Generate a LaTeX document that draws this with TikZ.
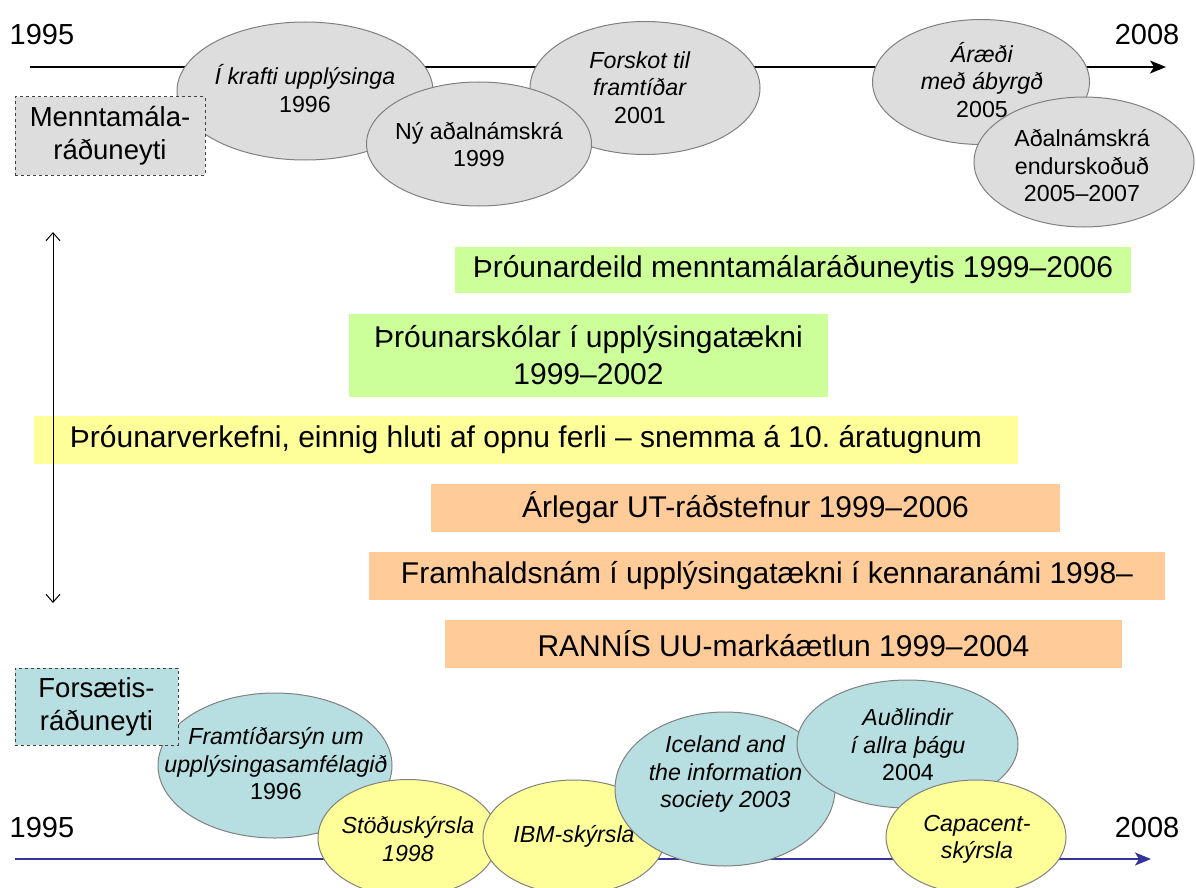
\documentclass[tikz,border=0pt]{standalone}
\usepackage{fontspec}
\setmainfont{Liberation Sans}
\usetikzlibrary{shapes.geometric,arrows.meta}
\frenchspacing
\definecolor{cgray}{RGB}{221,221,221}
\definecolor{cedge}{RGB}{128,128,128}
\definecolor{cteal}{RGB}{183,222,224}
\definecolor{cyel}{RGB}{255,255,153}
\definecolor{cgreen}{RGB}{204,255,153}
\definecolor{corange}{RGB}{255,204,153}
\definecolor{cblue}{RGB}{51,51,153}
\definecolor{cdash}{RGB}{64,64,64}
\newcommand\szBar{\fontsize{30}{37}\selectfont}
\newcommand\szEll{\fontsize{23.2}{27.5}\selectfont}
\newcommand\szBox{\fontsize{27.5}{33}\selectfont}
\newcommand\szYear{\fontsize{29}{34}\selectfont}
\tikzset{
  ell/.style={ellipse, draw=cedge, line width=1pt, inner sep=0pt},
  gell/.style={ell, fill=cgray},
  tell/.style={ell, fill=cteal},
  yell/.style={ell, fill=cyel},
  etext/.style={inner sep=0pt, align=center, font=\szEll},
  bar/.style={rectangle, inner sep=0pt, align=center, font=\szBar},
  minbox/.style={rectangle, draw=cdash, dashed, line width=1pt, inner sep=0pt, align=center, font=\szBox},
  year/.style={inner sep=0pt, font=\szYear},
  topaxis/.style={line width=1.5pt, -{Stealth[length=16pt,width=13pt,inset=4pt]}},
  botaxis/.style={draw=cblue, line width=2pt, -{Stealth[length=16pt,width=13pt,inset=4pt]}},
  span/.style={line width=1pt, {Straight Barb[length=8pt,width=14pt]}-{Straight Barb[length=8pt,width=14pt]}}
}
\begin{document}
\begin{tikzpicture}[x=1pt,y=-1pt]
\useasboundingbox (0,0) rectangle (1196,888);
% top axis
\coordinate (tA) at (30,67);
\coordinate (tB) at (1166,67);
\draw[topaxis] (tA) -- (tB);
\node[year] (t1995) at (42,35) {1995};
\node[year] (t2008) at (1147,35) {2008};
% top ellipses
\node[gell, minimum width=256pt, minimum height=138pt] (e1) at (305,91) {};
\node[etext] (e1t) at (305,88.5) {\textit{Í krafti upplýsinga}\\1996};
\node[gell, minimum width=230pt, minimum height=133pt] (e3) at (645,88) {};
\node[etext] (e3t) at (640,87.5) {\textit{Forskot til}\\\textit{framtíðar}\\2001};
\node[gell, minimum width=225pt, minimum height=124pt] (e2) at (479,144) {};
\node[etext] (e2t) at (479,144.5) {Ný aðalnámskrá\\1999};
\node[gell, minimum width=217pt, minimum height=125pt] (e4) at (981,82) {};
\node[etext] (e4t) at (982,80) {\textit{Áræði}\\\textit{með ábyrgð}\\2005};
\node[gell, minimum width=220pt, minimum height=130pt] (e5) at (1084,162) {};
\node[etext] (e5t) at (1082,166) {Aðalnámskrá\\endurskoðuð\\2005–2007};
% ministry box
\node[minbox, fill=cgray, minimum width=190pt, minimum height=78pt] (mrn) at (110,136) {Menntamála-\\ráðuneyti};
% vertical double arrow
\coordinate (vA) at (53,232);
\coordinate (vB) at (53,603);
% bars
\node[bar, fill=cyel, minimum width=984pt, minimum height=48pt] (b3) at (526,440) {Þróunarverkefni, einnig hluti af opnu ferli – snemma á 10. áratugnum};
\draw[span] (vA) -- (vB);
\node[bar, fill=cgreen, minimum width=676pt, minimum height=46pt] (b1) at (793,270) {Þróunardeild menntamálaráðuneytis 1999–2006};
\node[bar, fill=cgreen, minimum width=479pt, minimum height=83pt] (b2) at (588.5,355) {Þróunarskólar í upplýsingatækni\\1999–2002};
\node[bar, fill=corange, minimum width=629pt, minimum height=48pt] (b4) at (745.5,508) {Árlegar UT-ráðstefnur 1999–2006};
\node[bar, fill=corange, minimum width=796pt, minimum height=48pt] (b5) at (767,576) {Framhaldsnám í upplýsingatækni í kennaranámi 1998–};
\node[bar, fill=corange, minimum width=677pt, minimum height=48pt] (b6) at (783.5,644) {RANNÍS UU-markáætlun 1999–2004};
% bottom axis
\coordinate (bA) at (15,859);
\coordinate (bB) at (1151,859);
\draw[botaxis] (bA) -- (bB);
\node[year] (b1995) at (42,828) {1995};
\node[year] (b2008) at (1147,828) {2008};
% bottom ellipses
\node[tell, minimum width=234pt, minimum height=145pt] (f1) at (275,765.5) {};
\node[etext] (f1t) at (276,764) {\textit{Framtíðarsýn um}\\\textit{upplýsingasamfélagið}\\1996};
\node[minbox, fill=cteal, minimum width=163pt, minimum height=77pt] (frn) at (96.5,706.5) {Forsætis-\\ráðuneyti};
\node[yell, minimum width=180pt, minimum height=117pt] (f2) at (408,838) {};
\node[etext] (f2t) at (408,839) {\textit{Stöðuskýrsla}\\\textit{1998}};
\node[yell, minimum width=182pt, minimum height=114pt] (f3) at (574,837) {};
\node[etext] (f3t) at (574,836) {\textit{IBM-skýrsla}};
\node[tell, minimum width=220pt, minimum height=154pt] (f4) at (725,789) {};
\node[etext] (f4t) at (725.5,774) {\textit{Iceland and}\\\textit{the information}\\\textit{society 2003}};
\node[tell, minimum width=221pt, minimum height=128pt] (f5) at (907.5,744) {};
\node[etext] (f5t) at (908,745) {\textit{Auðlindir}\\\textit{í allra þágu}\\2004};
\node[yell, minimum width=180pt, minimum height=114pt] (f6) at (976,837) {};
\node[etext] (f6t) at (977,839.5) {\textit{Capacent-}\\\textit{skýrsla}};
\end{tikzpicture}
\end{document}
